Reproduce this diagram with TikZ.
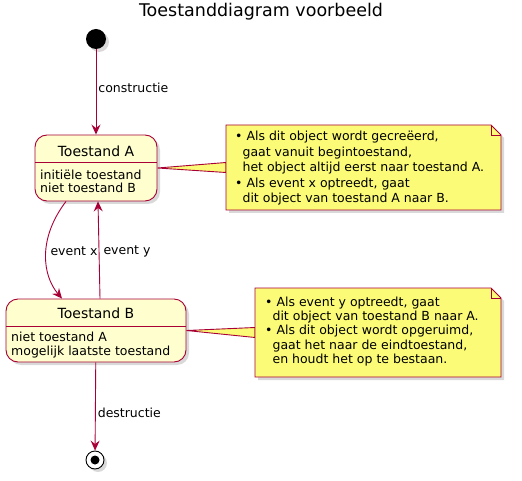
\documentclass[tikz,border=0pt]{standalone}
\usepackage{fontspec}
\setmainfont{DejaVu Sans}
\usetikzlibrary{arrows.meta,shadows}
\definecolor{umlred}{HTML}{A80036}
\definecolor{statefill}{HTML}{FEFECE}
\definecolor{notefill}{HTML}{FBFB77}
\tikzset{
  softshadow/.style={drop shadow={opacity=0.3, shadow xshift=3pt, shadow yshift=-3pt}},
  stbox/.style={draw=umlred, fill=statefill, line width=0.9pt, rounded corners=12pt, softshadow},
  stname/.style={font=\fontsize{14}{16}\selectfont, inner sep=0pt},
  sttxt/.style={font=\fontsize{12.5}{13.5}\selectfont, align=left, inner sep=0pt, anchor=west},
  lbl/.style={font=\fontsize{12.5}{14}\selectfont, inner sep=2pt},
  flow/.style={draw=umlred, line width=0.9pt, -{Stealth[length=10pt, width=9pt, inset=3.5pt]}},
  notebox/.style={inner sep=0pt, outer sep=0pt},
  noteline/.style={fill=notefill, draw=umlred, line width=0.9pt},
  notetxt/.style={align=left, inner sep=0pt, anchor=west},
  startdot/.style={circle, fill=black, minimum size=20pt, inner sep=0pt, softshadow},
  enddot/.style={circle, draw=black, fill=white, line width=0.9pt, minimum size=18pt, inner sep=0pt, softshadow,
    path picture={\fill[black] (path picture bounding box.center) circle (4.5pt);}}
}
\begin{document}
\begin{tikzpicture}[x=1pt,y=-1pt]
  \useasboundingbox (0,0) rectangle (522,481);

  \node[font=\fontsize{17.5}{20}\selectfont] (title) at (261,12) {Toestanddiagram voorbeeld};

  \node[startdot] (start) at (96,39) {};
  \node[enddot] (end) at (95,460) {};

  % states
  \node[stbox, minimum width=122pt, minimum height=66pt] (stA) at (96,168) {};
  \draw[umlred, line width=0.9pt] ([yshift=-28pt]stA.north west) -- ([yshift=-28pt]stA.north east);
  \node[stname] (stAname) at (96,151) {Toestand A};
  \node[sttxt] (stAbody) at (40,181.5) {initiële toestand\\niet toestand B};

  \node[stbox, minimum width=180pt, minimum height=63pt] (stB) at (96,330.5) {};
  \draw[umlred, line width=0.9pt] ([yshift=-28pt]stB.north west) -- ([yshift=-28pt]stB.north east);
  \node[stname] (stBname) at (96,313) {Toestand B};
  \node[sttxt] (stBbody) at (11,345) {niet toestand A\\mogelijk laatste toestand};

  % transitions
  \draw[flow] (start) -- (stA) node[lbl, pos=0.45, anchor=west] {constructie};
  \draw[flow] ([xshift=-30pt]stA.south) .. controls (38,238) and (42,275) .. ([xshift=-34pt]stB.north);
  \node[lbl] (lblx) at (74,251) {event x};
  \draw[flow] ([xshift=4pt]stB.north) -- ([xshift=2pt]stA.south);
  \node[lbl] (lbly) at (127,251) {event y};
  \draw[flow] (stB) -- (end) node[lbl, pos=0.57, anchor=west] {destructie};

  % notes
  \node[notebox, minimum width=275pt, minimum height=85pt] (noteA) at (363.5,167.5) {};
  \filldraw[noteline] (stA.east) -- ([yshift=5pt]noteA.west) -- ([yshift=-5pt]noteA.west) -- cycle;
  \filldraw[noteline, softshadow] (noteA.north west) -- ([xshift=-10pt]noteA.north east)
    -- ([yshift=-10pt]noteA.north east) -- (noteA.south east) -- (noteA.south west) -- cycle;
  \draw[umlred, line width=0.9pt] ([xshift=-10pt]noteA.north east) |- ([yshift=-10pt]noteA.north east);
  \node[notetxt, font=\fontsize{12.5}{15.5}\selectfont] (noteAtxt) at (235,168.5)
    {• Als dit object wordt gecreëerd,\\\phantom{•}gaat vanuit begintoestand,\\\phantom{•}het object altijd eerst naar toestand A.\\• Als event x optreedt, gaat\\\phantom{•}dit object van toestand A naar B.};

  \node[notebox, minimum width=246pt, minimum height=89pt] (noteB) at (378,332.5) {};
  \filldraw[noteline] (stB.east) -- ([yshift=5pt]noteB.west) -- ([yshift=-5pt]noteB.west) -- cycle;
  \filldraw[noteline, softshadow] (noteB.north west) -- ([xshift=-10pt]noteB.north east)
    -- ([yshift=-10pt]noteB.north east) -- (noteB.south east) -- (noteB.south west) -- cycle;
  \draw[umlred, line width=0.9pt] ([xshift=-10pt]noteB.north east) |- ([yshift=-10pt]noteB.north east);
  \node[notetxt, font=\fontsize{12.5}{14.3}\selectfont] (noteBtxt) at (265,331.5)
    {• Als event y optreedt, gaat\\\phantom{•}dit object van toestand B naar A.\\• Als dit object wordt opgeruimd,\\\phantom{•}gaat het naar de eindtoestand,\\\phantom{•}en houdt het op te bestaan.};
\end{tikzpicture}
\end{document}
